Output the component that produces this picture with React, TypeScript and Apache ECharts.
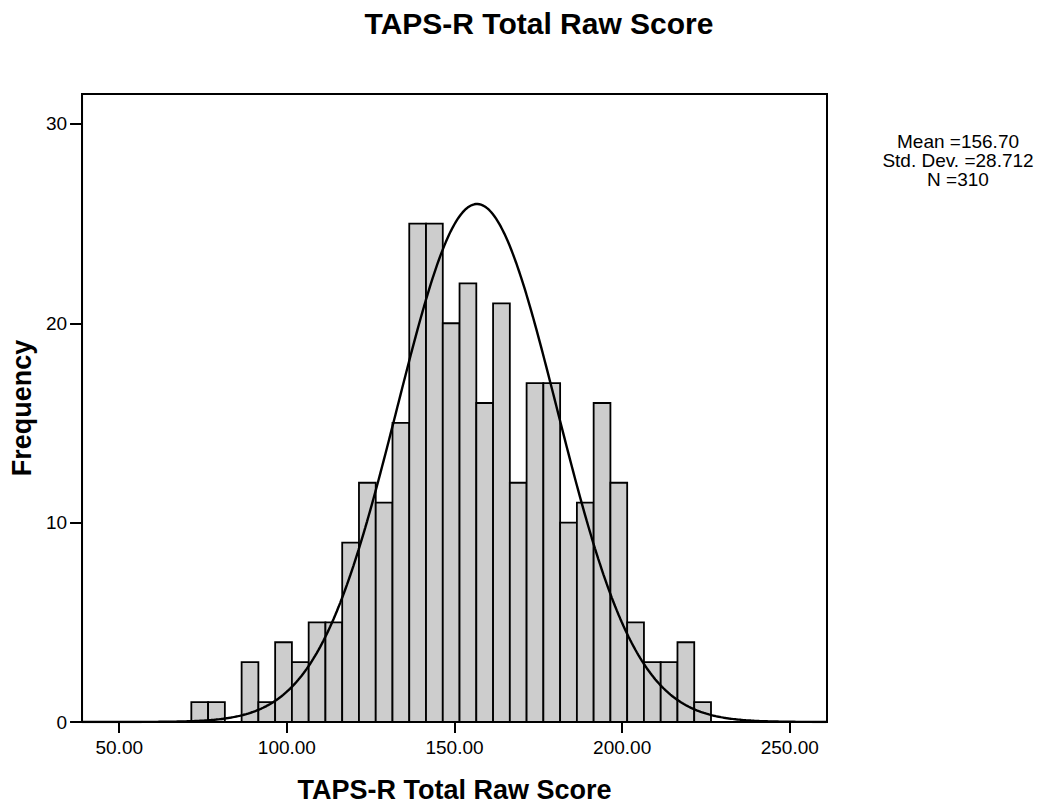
import React, { useEffect, useRef } from "react";
import * as echarts from "echarts";

// Histogram bins (lower / upper edges) and frequencies
const binLower = [71.5, 76.5, 81.5, 86.5, 91.5, 96.5, 101.5, 106.5, 111.5, 116.5, 121.5, 126.5, 131.5, 136.5, 141.5, 146.5, 151.5, 156.5, 161.5, 166.5, 171.5, 176.5, 181.5, 186.5, 191.5, 196.5, 201.5, 206.5, 211.5, 216.5, 221.5];
const binUpper = [76.5, 81.5, 86.5, 91.5, 96.5, 101.5, 106.5, 111.5, 116.5, 121.5, 126.5, 131.5, 136.5, 141.5, 146.5, 151.5, 156.5, 161.5, 166.5, 171.5, 176.5, 181.5, 186.5, 191.5, 196.5, 201.5, 206.5, 211.5, 216.5, 221.5, 226.5];
const frequencies = [1, 1, 0, 3, 1, 4, 3, 5, 5, 9, 12, 11, 15, 25, 25, 20, 22, 16, 21, 12, 17, 17, 10, 11, 16, 12, 5, 3, 3, 4, 1];

// Tick labels
const xTicks = [50, 100, 150, 200, 250];
const yTicks = [0, 10, 20, 30];

// Summary statistics
const statMean = "156.70";
const statSd = "28.712";
const statN = "310";

// Normal curve parameters (as drawn in the picture)
const curveMean = 156.7;
const curveSd = 23.8;
const curveN = 310;
const curveBinWidth = 5;
const xMin = 38.9;
const xMax = 261.1;
const yMax = 31.5;

const FONT = "'Liberation Sans', Arial, Helvetica, sans-serif";

function buildCurve(): number[][] {
  const pts: number[][] = [];
  const k = (curveN * curveBinWidth) / (curveSd * Math.sqrt(2 * Math.PI));
  for (let x = xMin; x <= xMax + 1e-9; x += 0.5) {
    const z = (x - curveMean) / curveSd;
    pts.push([x, k * Math.exp(-0.5 * z * z)]);
  }
  return pts;
}

export default function App() {
  const ref = useRef<HTMLDivElement>(null);
  useEffect(() => {
    if (!ref.current) return;
    const chart = echarts.init(ref.current, null, { renderer: "svg" });
    const barData = binLower.map((lo, i) => [lo, binUpper[i], frequencies[i]]);
    chart.setOption({
      animation: false,
      backgroundColor: "#ffffff",
      title: {
        text: "TAPS-R Total Raw Score",
        left: 534,
        top: 3,
        textAlign: "center",
        textStyle: { fontFamily: FONT, fontSize: 30, fontWeight: "bold", color: "#000" },
      },
      graphic: [
        {
          type: "text",
          x: 958,
          y: 160,
          style: {
            text: `Mean =${statMean}\nStd. Dev. =${statSd}\nN =${statN}`,
            font: `19px ${FONT}`,
            fill: "#000",
            align: "center",
            verticalAlign: "middle",
            lineHeight: 19,
          },
        },
      ],
      grid: {
        left: 81,
        right: 217,
        top: 94,
        bottom: 82.5,
        show: true,
        borderColor: "#000",
        borderWidth: 2,
        backgroundColor: "transparent",
      },
      xAxis: {
        type: "value",
        min: xMin,
        max: xMax,
        name: "TAPS-R Total Raw Score",
        nameLocation: "middle",
        nameGap: 54,
        nameTextStyle: { fontFamily: FONT, fontSize: 27, fontWeight: "bold", color: "#000" },
        splitLine: { show: false },
        axisLine: { show: true, lineStyle: { color: "#000", width: 2 } },
        axisTick: { show: true, length: 11, lineStyle: { color: "#000", width: 2 }, customValues: xTicks },
        axisLabel: {
          margin: 16,
          fontFamily: FONT,
          fontSize: 19,
          color: "#000",
          customValues: xTicks,
          formatter: (v: number) => v.toFixed(2),
        },
      },
      yAxis: {
        type: "value",
        min: 0,
        max: yMax,
        name: "Frequency",
        nameLocation: "middle",
        nameGap: 45,
        nameTextStyle: { fontFamily: FONT, fontSize: 27, fontWeight: "bold", color: "#000" },
        splitLine: { show: false },
        axisLine: { show: true, lineStyle: { color: "#000", width: 2 } },
        axisTick: { show: true, length: 12, lineStyle: { color: "#000", width: 2 }, customValues: yTicks },
        axisLabel: {
          margin: 15,
          fontFamily: FONT,
          fontSize: 19,
          color: "#000",
          customValues: yTicks,
          padding: [6, 0, 0, 0],
        },
      },
      series: [
        {
          type: "custom",
          name: "Frequency",
          data: barData,
          encode: { x: [0, 1], y: 2 },
          renderItem: (params: any, api: any) => {
            const count = api.value(2);
            if (!count) return null;
            const p0 = api.coord([api.value(0), count]);
            const p1 = api.coord([api.value(1), 0]);
            return {
              type: "rect",
              shape: { x: p0[0], y: p0[1], width: p1[0] - p0[0], height: p1[1] - p0[1] },
              style: { fill: "#cdcdcd", stroke: "#000", lineWidth: 1.8 },
            };
          },
          z: 2,
        },
        {
          type: "line",
          name: "Normal",
          data: buildCurve(),
          showSymbol: false,
          smooth: false,
          lineStyle: { color: "#000", width: 2.4 },
          z: 3,
        },
      ],
    });
    return () => chart.dispose();
  }, []);
  return (
    <div
      ref={ref}
      style={{ position: "absolute", left: 0, top: 0, width: 1044, height: 808, background: "#fff" }}
    />
  );
}
